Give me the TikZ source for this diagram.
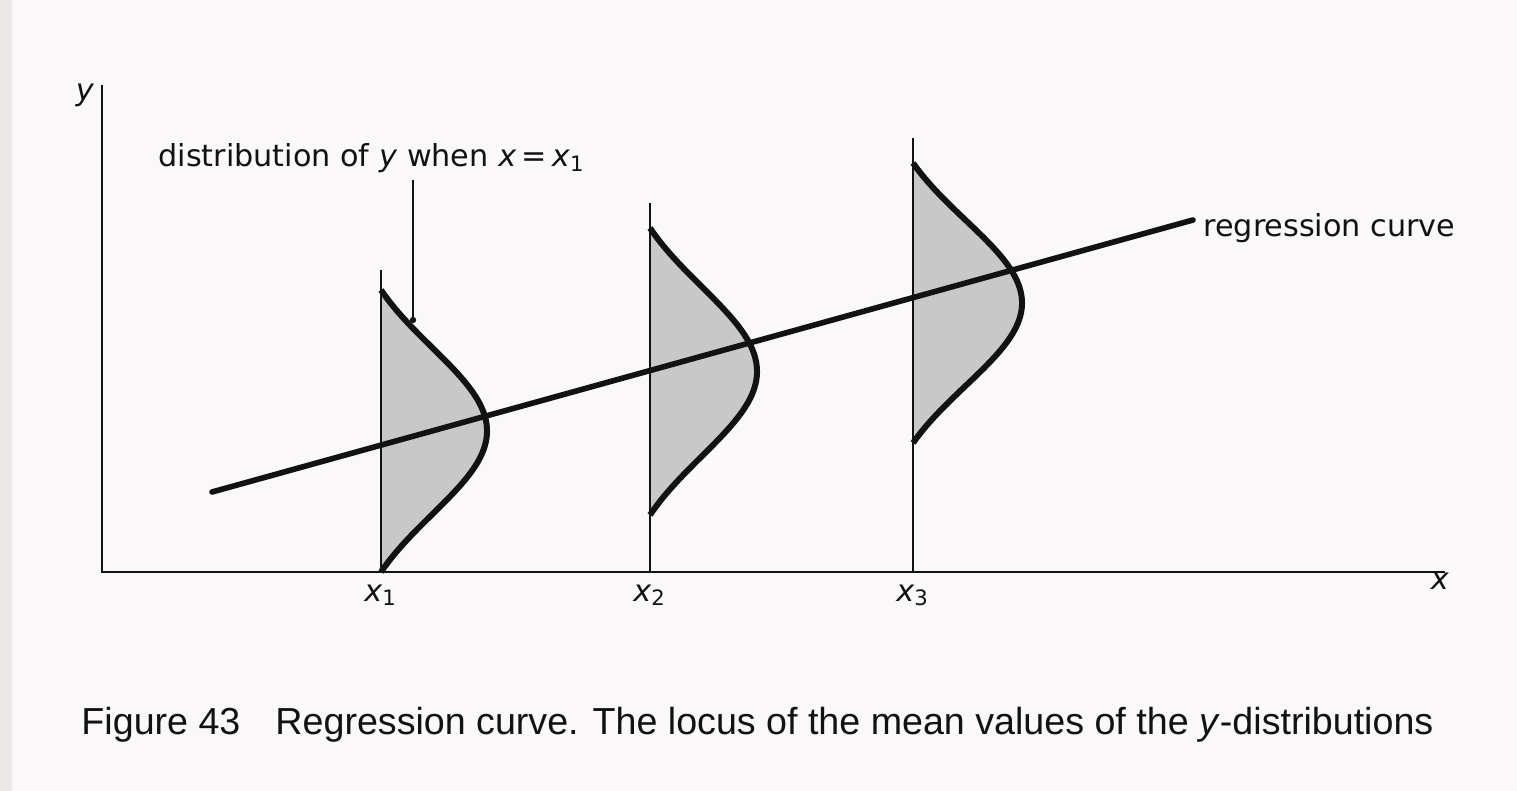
\documentclass[tikz,border=0pt]{standalone}
\usepackage{fontspec}
\usepackage{xcolor}
\usepackage{tikz}
\setmainfont{DejaVu Sans}
\newfontfamily\capfont{Liberation Sans}
\definecolor{pagebg}{RGB}{250,248,248}
\definecolor{pageedge}{RGB}{236,232,232}
\definecolor{ink}{RGB}{18,18,18}
\definecolor{stipple}{RGB}{200,200,200}

\begin{document}
\begin{tikzpicture}[x=0.01cm, y=-0.01cm, line width=0.85pt,
    lbl/.style={font=\fontsize{8.6}{10}\selectfont, text=ink, inner sep=0pt},
    captext/.style={font=\capfont\fontsize{10.7}{12}\selectfont, text=ink, inner sep=0pt}]
        % page
        \fill[pagebg] (0,0) rectangle (1517,791);
        \fill[pageedge] (0,0) rectangle (12,791);
        \useasboundingbox (0,0) rectangle (1517,791);

        % axes
        \coordinate (O) at (102,572);
        \coordinate (Ytop) at (102,85);
        \coordinate (Xend) at (1445,572);
        \draw[ink] (Ytop) -- (O) -- (Xend);
        \node[lbl, anchor=base] (ylbl) at (85,101) {\textit{y}};
        \node[lbl, anchor=base] (xlbl) at (1440,590) {\textit{x}};

        % the three y-distributions
        \foreach \bx/\cy/\hh/\ww/\tp/\i in {381/431/141/106/270/1, 650/371.5/143.5/107/203/2, 913/303/140/109/138/3} {
            \fill[stipple] plot[domain=-1:1, samples=60, smooth]
                ({\bx+\ww*(exp(-((\x)*(\x))/0.7)-0.2397)/0.7603}, {\cy+\hh*\x}) -- cycle;
            \draw[ink, line width=0.7pt] (\bx,\tp) -- (\bx,572);
            \draw[ink, line width=1.7pt] plot[domain=-1:1, samples=60, smooth]
                ({\bx+\ww*(exp(-((\x)*(\x))/0.7)-0.2397)/0.7603}, {\cy+\hh*\x});
            \node[lbl, anchor=base] (lx\i) at (\bx,601) {\textit{x}\textsubscript{\i}};
        }

        % regression line
        \coordinate (RegA) at (212,492);
        \coordinate (RegB) at (1193,220);
        \draw[ink, line width=1.6pt, line cap=round] (RegA) -- (RegB);
        \node[lbl, anchor=base west] (reglbl) at (1202,237) {regression curve};

        % label with pointer
        \node[lbl, anchor=base west] (distlbl) at (157,167)
            {distribution of \textit{y} when \textit{x}\,=\,\textit{x}\textsubscript{1}};
        \coordinate (PtrTop) at (413,180);
        \coordinate (PtrDot) at (413,320);
        \draw[ink, line width=0.45pt] (PtrTop) -- (PtrDot);
        \fill[ink] (PtrDot) circle (3.2);

        % caption
        \node[captext, anchor=base west] (capnum) at (80,735) {Figure 43};
        \node[captext, anchor=base west] (captxt) at (274,735)
            {Regression curve. The locus of the mean values of the \textit{y}-distributions};
    \end{tikzpicture}
\end{document}
